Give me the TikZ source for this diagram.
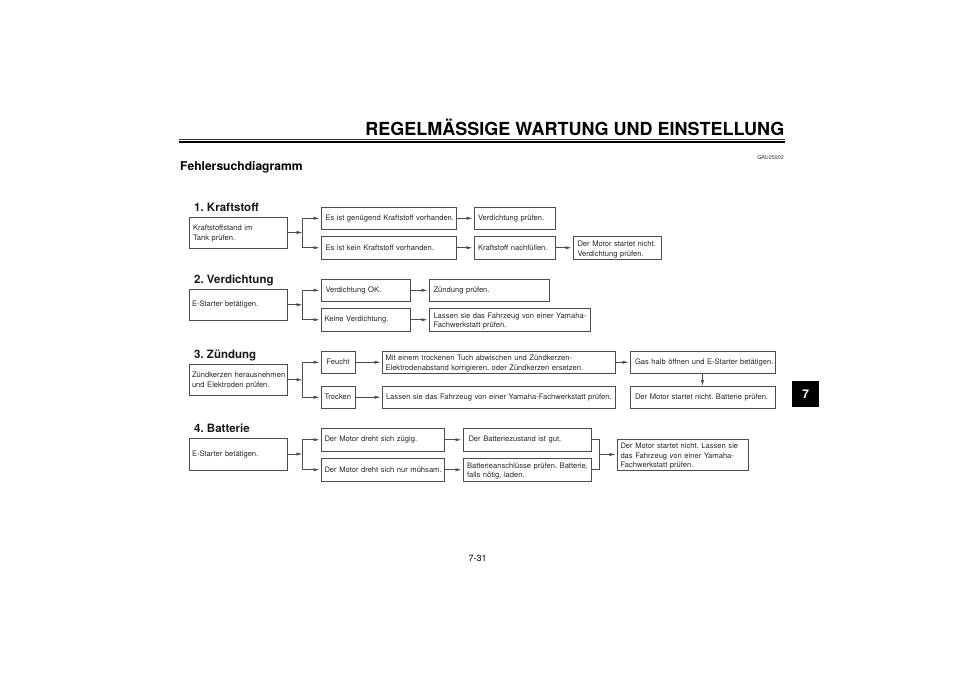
\documentclass[tikz,border=0pt]{standalone}
\usepackage{fontspec}
\setmainfont{TeX Gyre Heros}
\usetikzlibrary{arrows.meta}
\frenchspacing
\newcommand{\dropline}[1]{\rule{0pt}{#1pt}}

\begin{document}
\begin{tikzpicture}[x=1pt, y=-1pt, line join=miter,
		flowbox/.style n args={3}{draw=black!70, line width=0.8pt, anchor=north west, outer sep=0pt,
			minimum width=#1pt, minimum height=#2pt, inner xsep=0pt, inner ysep=0pt,
			text width=#1pt, align=left, font=\fontsize{7.6}{9.7}\selectfont, text=black!85,
			execute at begin node={\leftskip=#3pt\relax}},
		flow/.style={draw=black!70, line width=0.8pt, shorten >=1.5pt, -{Latex[length=6pt,width=3.4pt]}},
		joinline/.style={draw=black!70, line width=0.8pt},
		heading/.style={anchor=base west, inner sep=0pt, font=\fontsize{11.5}{14}\selectfont\bfseries, text=black!90}]
	\useasboundingbox (0,0) rectangle (960,678);

	% Define parameters
	\def\xstart{321}  % Left edge of the second column
	\def\hrow{22.5}   % Height of a one-line box

	% Page head
	\node[anchor=base east, inner sep=0pt, font=\fontsize{18}{20}\selectfont\bfseries] (title) at (784.5,135) {REGELMÄSSIGE WARTUNG UND EINSTELLUNG};
	\coordinate (RuleL) at (179,139);
	\coordinate (RuleR) at (785,139);
	\draw[line width=0.7pt, black!80] (RuleL) -- (RuleR);
	\draw[line width=1.6pt] ([yshift=-3pt]RuleL) -- ([yshift=-3pt]RuleR);
	\node[anchor=base west, inner sep=0pt, font=\fontsize{12.1}{14}\selectfont\bfseries] (chapter) at (180,170) {Fehlersuchdiagramm};
	\node[anchor=base east, inner sep=0pt, font=\fontsize{5.4}{6}\selectfont, text=black!80] (code) at (784,159) {GAU25902};
	\node[anchor=center, inner sep=0pt, font=\fontsize{9}{10}\selectfont] (pagenum) at (477.5,558.5) {7-31};
	\node[fill=black, text=white, anchor=north west, minimum width=27pt, minimum height=26pt, inner sep=0pt, font=\fontsize{12}{14}\selectfont\bfseries] (tab) at (792,381) {7};

	% 1. Kraftstoff
	\node[heading] (head1) at (194,211) {1. Kraftstoff};
	\node[flowbox={98}{31}{4}] (ka) at (189,217) {\dropline{8}Kraftstoffstand im\\Tank prüfen.};
	\node[flowbox={135.5}{\hrow}{4.5}] (kb) at (\xstart,207) {Es ist genügend Kraftstoff vorhanden.};
	\node[flowbox={135.5}{\hrow}{4.5}] (kc) at (\xstart,236.5) {Es ist kein Kraftstoff vorhanden.};
	\node[flowbox={81}{\hrow}{4}] (kd) at (474,207) {Verdichtung prüfen.};
	\node[flowbox={81}{\hrow}{4}] (ke) at (474,236.5) {Kraftstoff nachfüllen.};
	\node[flowbox={88}{\hrow}{4.5}] (kf) at (573,236.5) {\dropline{8.5}Der Motor startet nicht.\\Verdichtung prüfen.};
	\coordinate (kj) at ([xshift=15.5pt]ka.east);
	\draw[flow, shorten >=0pt] (ka.east) -- (kj);
	\draw[flow] (kj) |- (kb.west);
	\draw[flow] (kj) |- (kc.west);
	\draw[flow] (kb.east) -- (kd.west);
	\draw[flow] (kc.east) -- (ke.west);
	\draw[flow] (ke.east) -- (kf.west);

	% 2. Verdichtung
	\node[heading] (head2) at (194,283) {2. Verdichtung};
	\node[flowbox={98}{31.5}{3}] (va) at (189,289) {E-Starter betätigen.};
	\node[flowbox={89}{\hrow}{4.5}] (vb) at (\xstart,279) {Verdichtung OK.};
	\node[flowbox={89}{\hrow}{3.5}] (vc) at (\xstart,308.5) {Keine Verdichtung.};
	\node[flowbox={120}{\hrow}{4.5}] (vd) at (429,279) {Zündung prüfen.};
	\node[flowbox={161}{\hrow}{4.5}] (ve) at (429,308.5) {\dropline{8}Lassen sie das Fahrzeug von einer Yamaha-\\Fachwerkstatt prüfen.};
	\coordinate (vj) at ([xshift=15.5pt]va.east);
	\draw[flow, shorten >=0pt] (va.east) -- (vj);
	\draw[flow] (vj) |- (vb.west);
	\draw[flow] (vj) |- (vc.west);
	\draw[flow] (vb.east) -- (vd.west);
	\draw[flow] (vc.east) -- (ve.west);

	% 3. Zündung
	\node[heading] (head3) at (194,358) {3. Zündung};
	\node[flowbox={98}{31.5}{3}] (za) at (189,364) {\dropline{7.5}Zündkerzen herausnehmen\\und Elektroden prüfen.};
	\node[flowbox={34}{\hrow}{5.5}] (zb) at (\xstart,351) {Feucht};
	\node[flowbox={34}{\hrow}{3.5}] (zc) at (\xstart,386) {Trocken};
	\node[flowbox={233}{\hrow}{3.5}] (zd) at (382,351) {\dropline{7.5}Mit einem trockenen Tuch abwischen und Zündkerzen-\\Elektrodenabstand korrigieren, oder Zündkerzen ersetzen.};
	\node[flowbox={233}{\hrow}{4}] (ze) at (382,386) {Lassen sie das Fahrzeug von einer Yamaha-Fachwerkstatt prüfen.};
	\node[flowbox={145}{\hrow}{5}] (zf) at (630,351) {Gas halb öffnen und E-Starter betätigen.};
	\node[flowbox={145}{\hrow}{5}] (zg) at (630,386) {Der Motor startet nicht. Batterie prüfen.};
	\coordinate (zj) at ([xshift=15.5pt]za.east);
	\draw[flow, shorten >=0pt] (za.east) -- (zj);
	\draw[flow] (zj) |- (zb.west);
	\draw[flow] (zj) |- (zc.west);
	\draw[flow] (zb.east) -- (zd.west);
	\draw[flow] (zc.east) -- (ze.west);
	\draw[flow] (zd.east) -- (zf.west);
	\draw[flow, shorten >=0pt] (zf.south) -- (zg.north);

	% 4. Batterie
	\node[heading] (head4) at (194,432.5) {4. Batterie};
	\node[flowbox={98}{32}{3}] (ba) at (189,438) {E-Starter betätigen.};
	\node[flowbox={123}{\hrow}{3.5}] (bb) at (\xstart,428.5) {Der Motor dreht sich zügig.};
	\node[flowbox={123}{\hrow}{3.5}] (bc) at (\xstart,458.5) {Der Motor dreht sich nur mühsam.};
	\node[flowbox={128}{\hrow}{5.5}] (bd) at (463,428.5) {Der Batteriezustand ist gut.};
	\node[flowbox={128}{\hrow}{4}] (be) at (463,458.5) {\dropline{8}Batterieanschlüsse prüfen. Batterie,\\falls nötig, laden.};
	\node[flowbox={131}{31}{3.5}] (bf) at (617,439) {\dropline{9}Der Motor startet nicht. Lassen sie\\das Fahrzeug von einer Yamaha-\\Fachwerkstatt prüfen.};
	\coordinate (bj) at ([xshift=15.5pt]ba.east);
	\coordinate (bk) at ([xshift=8.5pt]bd.east |- bf.west);
	\draw[flow, shorten >=0pt] (ba.east) -- (bj);
	\draw[flow] (bj) |- (bb.west);
	\draw[flow] (bj) |- (bc.west);
	\draw[flow] (bb.east) -- (bd.west);
	\draw[flow] (bc.east) -- (be.west);
	\draw[joinline] (bd.east) -| (bk);
	\draw[joinline] (be.east) -| (bk);
	\draw[flow] (bk) -- (bf.west);
\end{tikzpicture}
\end{document}
